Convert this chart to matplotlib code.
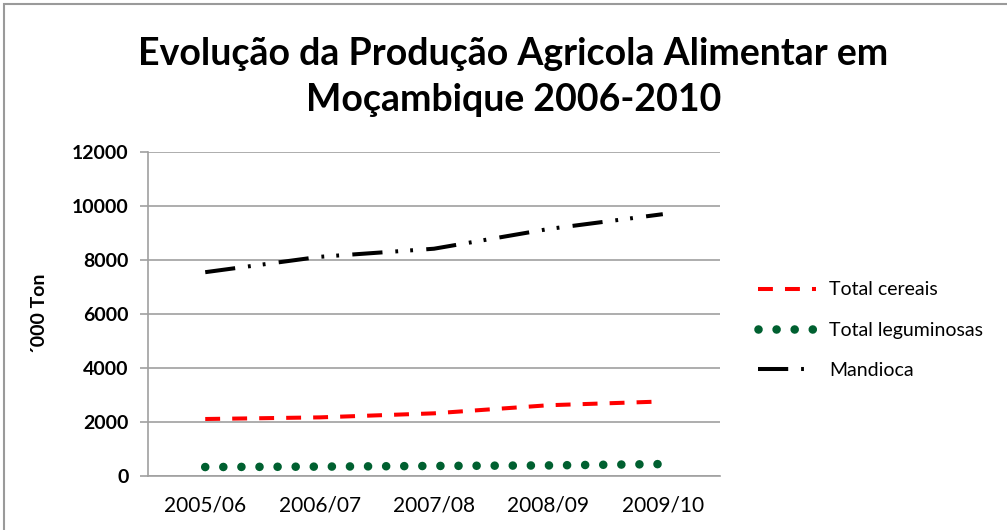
import matplotlib.pyplot as plt
from matplotlib.patches import Rectangle

# data
anos = ["2005/06", "2006/07", "2007/08", "2008/09", "2009/10"]
cereais = [2110, 2170, 2320, 2620, 2760]
leguminosas = [330, 345, 370, 390, 440]
mandioca = [7550, 8120, 8420, 9150, 9700]

plt.rcParams['font.family'] = ['Lato', 'DejaVu Sans']

fig = plt.figure(figsize=(10.07, 5.30), dpi=100)
ax = fig.add_axes([0.147, 0.102, 0.568, 0.611])

# grey border of the chart area (cut on right and bottom like the picture)
fig.patches.append(Rectangle((4 / 1007, -0.05), 1.2, 1 - 4 / 530 + 0.05,
                             transform=fig.transFigure, fill=False,
                             edgecolor='#9a9a9a', linewidth=1.5))

x = range(len(anos))
ax.plot(x, cereais, color='#ff0000', linewidth=2.9,
        linestyle=(0, (3.7, 3)), label='Total cereais')
ax.plot(x, leguminosas, color='#006030', linewidth=6.2,
        linestyle=(0, (0.001, 2.1)), dash_capstyle='round',
        label='Total leguminosas')
ax.plot(x, mandioca, color='black', linewidth=2.9,
        linestyle=(0, (7.5, 3.2, 0.7, 3, 0.7, 3.3)), label='Mandioca')

ax.set_xlim(-0.5, len(anos) - 0.5)
ax.set_ylim(0, 12000)
ax.set_yticks(range(0, 12001, 2000))
ax.set_xticks(list(x))
ax.set_xticklabels(anos)
ax.grid(axis='y', color='#a0a0a0', linewidth=1.2)
ax.set_axisbelow(True)

for s in ['top', 'right']:
    ax.spines[s].set_visible(False)
for s in ['left', 'bottom']:
    ax.spines[s].set_color('#a0a0a0')
    ax.spines[s].set_linewidth(1.2)

ax.tick_params(axis='y', length=6, color='#a0a0a0', width=1.2, labelsize=14, pad=8)
ax.tick_params(axis='x', length=0, labelsize=15, pad=14)
for t in ax.get_yticklabels():
    t.set_fontweight('bold')

ax.set_ylabel("´000 Ton", fontsize=14, fontweight='bold', labelpad=17)

fig.suptitle("Evolução da Produção Agricola Alimentar em\nMoçambique 2006-2010",
             x=0.51, y=0.93, fontsize=27, fontweight='bold', linespacing=1.42)

leg = ax.legend(loc='center left', bbox_to_anchor=(1.035, 0.45), frameon=False,
                fontsize=14, handlelength=3.0, labelspacing=1.2,
                handletextpad=0.7)

fig.savefig('out.png', dpi=100)
